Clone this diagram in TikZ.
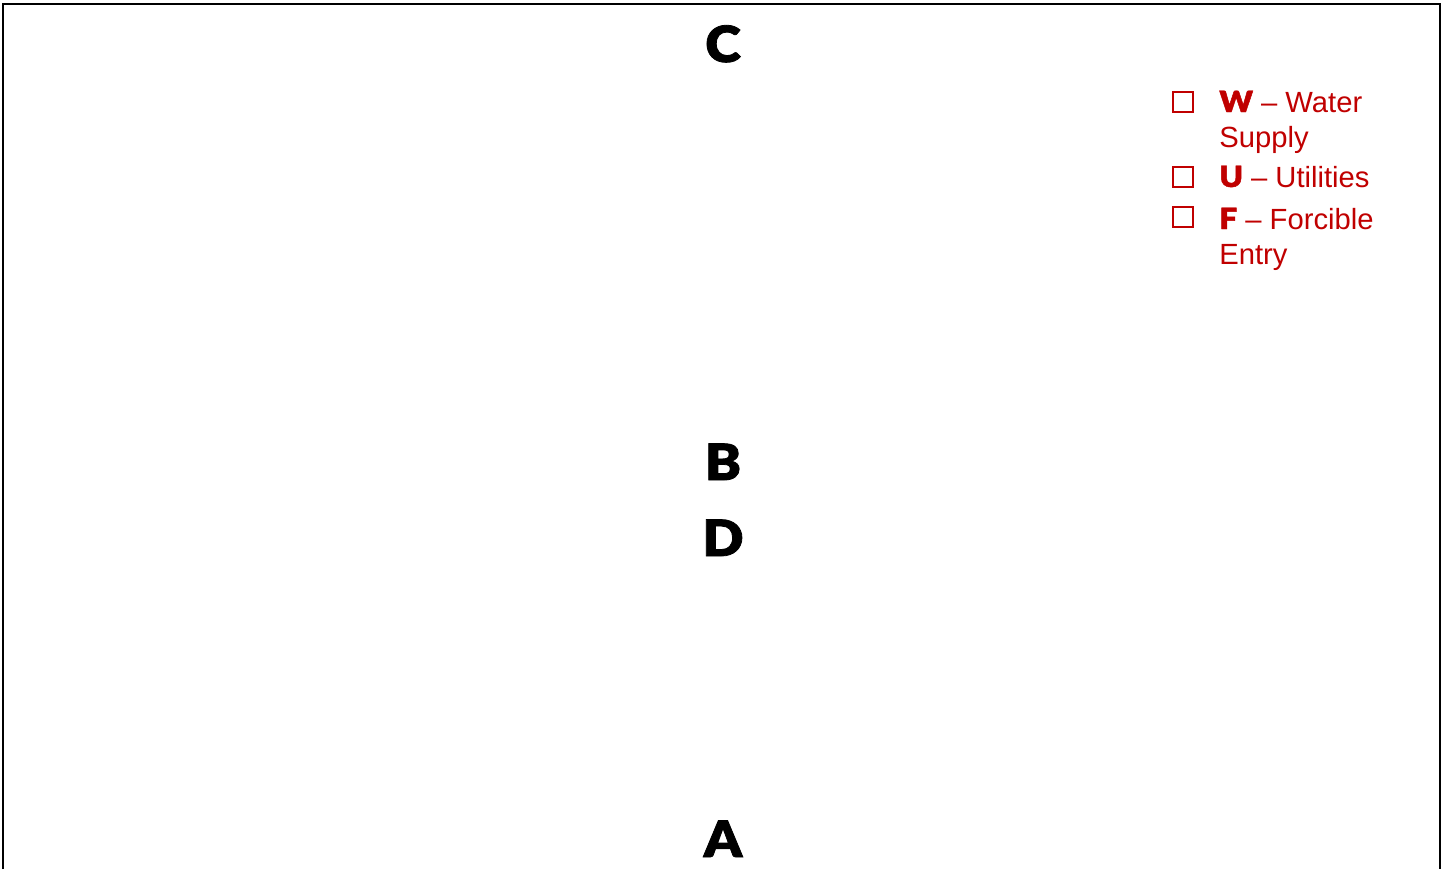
\documentclass[tikz,border=0pt]{standalone}
\usepackage{fontspec}
\setmainfont{Liberation Sans}
\newfontfamily\heavyfont{Lato Black}[FakeBold=1.6,FakeStretch=1.08]
\definecolor{legendred}{HTML}{C00000}
\tikzset{
  zone/.style={font=\heavyfont\fontsize{25}{30}\selectfont, inner sep=0pt, anchor=base},
  keybox/.style={draw=legendred, line width=1.1pt, minimum size=9.8pt, inner sep=0pt},
  keytext/.style={text=legendred, font=\fontsize{14.6}{17.5}\selectfont, anchor=base west,
    align=left, inner sep=0pt},
}
\newcommand{\keyletter}[1]{{\heavyfont #1}}
\begin{document}
\begin{tikzpicture}[x=0.5pt,y=-0.5pt]
  \useasboundingbox (0,0) rectangle (1442,869);
  % frame, open at the bottom
  \draw[line width=1.2pt] (3,869) -- (3,4) -- (1440,4) -- (1440,869);
  % zones
  \node[zone] (zoneC) at (723,62) {C};
  \node[zone] (zoneB) at (723,480) {B};
  \node[zone] (zoneD) at (723,556) {D};
  \node[zone] (zoneA) at (723,857) {A};
  % legend (base anchor sits on the last line)
  \node[keybox] (boxW) at (1183,102) {};
  \node[keybox] (boxU) at (1183,177) {};
  \node[keybox] (boxF) at (1183,217) {};
  \node[keytext] (keyW) at (1219,147) {\keyletter{W} -- Water\\Supply};
  \node[keytext] (keyU) at (1219,187) {\keyletter{U} -- Utilities};
  \node[keytext] (keyF) at (1219,264) {\keyletter{F} -- Forcible\\Entry};
\end{tikzpicture}
\end{document}
